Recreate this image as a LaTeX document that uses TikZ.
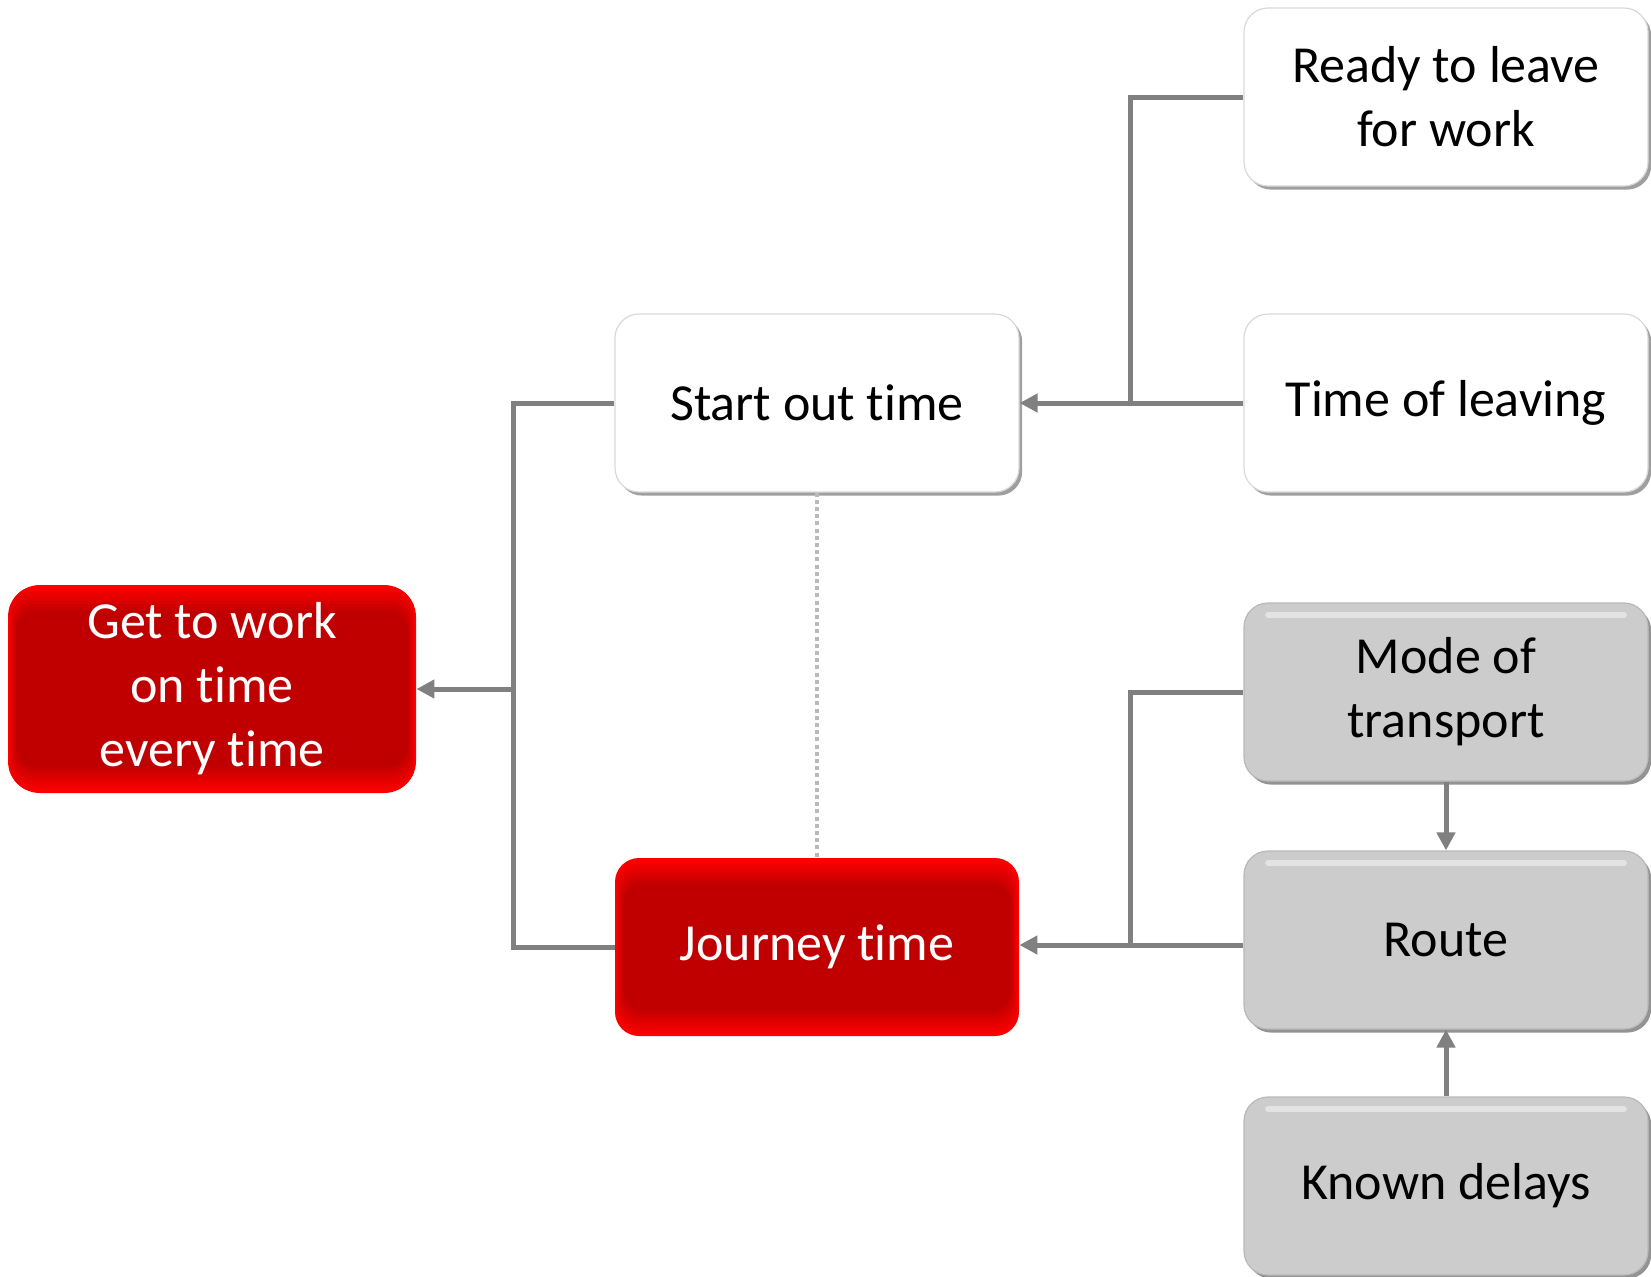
\documentclass[tikz,border=0pt]{standalone}
\usepackage{fontspec}
\setmainfont{Carlito}[Ligatures=NoCommon]
\usetikzlibrary{arrows.meta,shadows}

\definecolor{darkred}{HTML}{C00000}
\definecolor{boxgrey}{HTML}{CCCCCC}
\definecolor{linkgrey}{HTML}{808080}

\tikzset{
  box/.style={rounded corners=12pt, minimum width=202pt, minimum height=89pt,
    align=center, font=\fontsize{26}{32}\selectfont},
  whitebox/.style={box, fill=white, draw=gray!30, line width=0.6pt,
    drop shadow={shadow xshift=1.6pt, shadow yshift=-1.8pt, fill=gray!75, opacity=1}},
  greybox/.style={box, fill=boxgrey, draw=gray!55, line width=0.6pt,
    drop shadow={shadow xshift=1.6pt, shadow yshift=-1.8pt, fill=gray!85, opacity=1},
    path picture={
      \draw[white!45!boxgrey, line width=3pt, line cap=round]
        ([shift={(12pt,-6pt)}]path picture bounding box.north west)
        -- ([shift={(-12pt,-6pt)}]path picture bounding box.north east);
    }},
  redbox/.style={box, text=white, fill=red,
    path picture={
      \foreach \k [evaluate=\k as \p using int(\k*12.5)] in {1,...,8}
        \fill[darkred!\p!red, rounded corners=10pt]
          ([shift={(\k*0.5pt,-\k*1.6pt)}]path picture bounding box.north west)
          rectangle ([shift={(-\k*0.5pt,\k*1.6pt)}]path picture bounding box.south east);
    }},
  link/.style={draw=linkgrey, line width=2.5pt},
  arr/.style={link, -{Triangle[length=9pt,width=9pt]}},
}

\begin{document}
\begin{tikzpicture}[x=0.5pt,y=-0.5pt]

  \useasboundingbox (0,0) rectangle (1651,1276);

  % Goal and the two main factors
  \node[redbox, minimum width=204pt, minimum height=104pt, rounded corners=16pt] (goal) at (212,689)
    {Get to work\\on time\\every time};
  \node[whitebox] (start) at (817,403) {Start out time};
  \node[redbox] (journey) at (817,947) {Journey time};

  % Right column
  \node[whitebox] (ready) at (1446,97) {Ready to leave\\for work};
  \node[whitebox] (leave) at (1446,403) {Time of leaving};
  \node[greybox] (mode) at (1446,692) {Mode of\\transport};
  \node[greybox] (route) at (1446,940) {Route};
  \node[greybox] (delays) at (1446,1186) {Known delays};

  % Junctions of the brackets
  \coordinate (jgoal) at (513,689);
  \coordinate (jstart) at (1130,403);
  \coordinate (jjourney) at (1130,945);

  % Left bracket
  \draw[link] (start.west) -| (jgoal) |- (journey.west);
  \draw[arr] (jgoal) -- (goal.east);

  % Upper right bracket
  \draw[link] (ready.west) -| (jstart);
  \draw[link] (leave.west) -- (jstart);
  \draw[arr] (jstart) -- (start.east);

  % Lower right bracket
  \draw[link] (mode.west) -| (jjourney);
  \draw[link] (jjourney -| route.west) -- (jjourney);
  \draw[arr] (jjourney) -- (jjourney -| journey.east);

  % Links inside the right column
  \draw[arr] (mode.south) -- (route.north);
  \draw[arr] (delays.north) -- (route.south);

  % Dotted link between the two factors
  \draw[draw=gray!55, line width=2pt, dash pattern=on 2pt off 1.6pt]
    (start.south) -- (journey.north);

\end{tikzpicture}
\end{document}
